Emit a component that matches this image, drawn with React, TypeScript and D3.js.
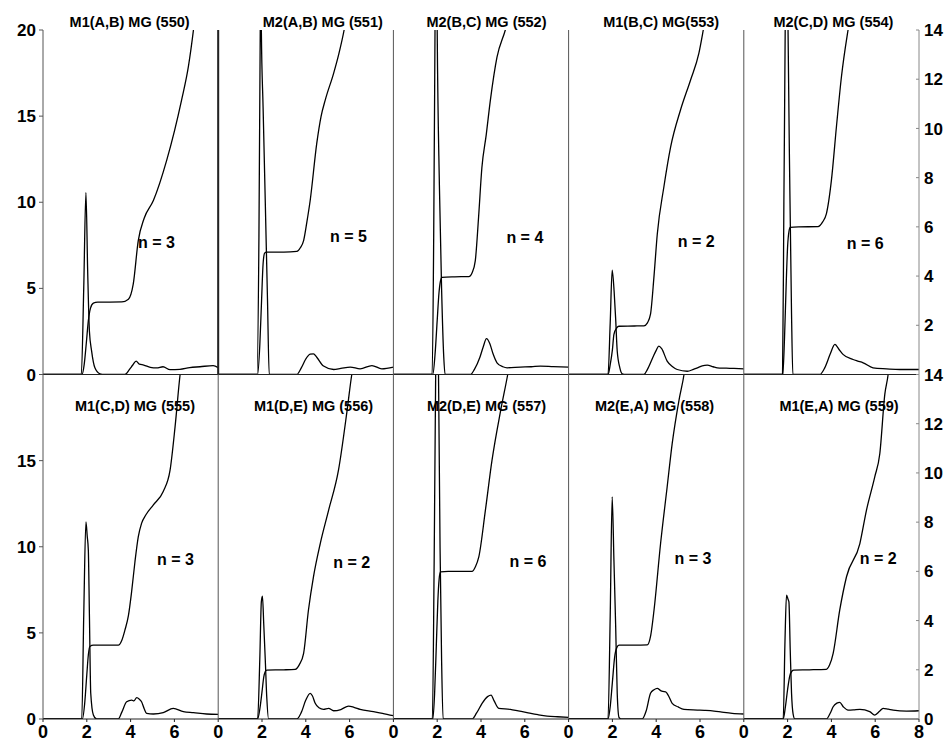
import React from 'react';
import * as d3 from 'd3';

// panel titles, coordination numbers
const titles = [
  'M1(A,B) MG (550)', 'M2(A,B) MG (551)', 'M2(B,C) MG (552)', 'M1(B,C) MG(553)', 'M2(C,D) MG (554)',
  'M1(C,D) MG (555)', 'M1(D,E) MG (556)', 'M2(D,E) MG (557)', 'M2(E,A) MG (558)', 'M1(E,A) MG (559)',
];
const nValues = [3, 5, 4, 2, 6, 3, 2, 6, 3, 2];

// g(r) curves, left axis (0-20)
const gr550 = [[0, 0], [1.75, 0], [1.86, 5], [1.96, 10.57], [2.04, 6], [2.12, 2.5], [2.22, 1.36], [2.37, 0.39], [2.6, 0.04], [2.8, 0], [3.74, 0], [3.95, 0.3], [4.1, 0.55], [4.25, 0.78], [4.4, 0.6], [4.6, 0.55], [4.9, 0.42], [5.19, 0.38], [5.48, 0.45], [5.8, 0.28], [6.25, 0.3], [6.7, 0.4], [7.17, 0.45], [7.77, 0.52], [8, 0.4]];
const gr551 = [[0, 0], [1.77, 0], [1.86, 8], [1.92, 20], [1.945, 26], [1.97, 20], [2.05, 15.5], [2.15, 10], [2.25, 4.4], [2.33, 0], [3.59, 0], [3.8, 0.4], [4.0, 0.9], [4.2, 1.18], [4.35, 1.2], [4.5, 1.0], [4.81, 0.49], [5.27, 0.29], [5.6, 0.35], [6.03, 0.43], [6.48, 0.33], [7.02, 0.52], [7.47, 0.33], [8, 0.43]];
const gr552 = [[0, 0], [1.77, 0], [1.84, 8], [1.9, 20], [1.95, 30], [2.0, 20], [2.1, 11], [2.2, 5], [2.3, 1], [2.36, 0], [3.52, 0], [3.7, 0.3], [3.95, 1.0], [4.1, 1.6], [4.25, 2.08], [4.4, 1.8], [4.55, 1.2], [4.73, 0.68], [5.0, 0.45], [5.19, 0.39], [5.8, 0.43], [6.3, 0.45], [6.71, 0.49], [7.3, 0.46], [8, 0.43]];
const gr553 = [[0, 0], [1.8, 0], [1.9, 3], [1.99, 6.06], [2.08, 4.8], [2.15, 3.2], [2.22, 1.36], [2.34, 0.39], [2.45, 0.04], [2.6, 0], [3.44, 0], [3.6, 0.3], [3.85, 1.0], [4.0, 1.4], [4.12, 1.65], [4.25, 1.5], [4.5, 0.78], [4.75, 0.45], [4.96, 0.29], [5.42, 0.19], [5.7, 0.3], [5.88, 0.39], [6.1, 0.5], [6.33, 0.54], [6.6, 0.45], [6.79, 0.39], [7.2, 0.37], [7.55, 0.35], [8, 0.33]];
const gr554 = [[0, 0], [1.77, 0], [1.83, 10], [1.89, 20], [1.95, 34], [2.02, 20], [2.1, 11], [2.18, 3.5], [2.24, 0], [3.47, 0], [3.7, 0.4], [3.95, 1.2], [4.16, 1.75], [4.35, 1.45], [4.53, 1.17], [4.99, 0.87], [5.2, 0.78], [5.45, 0.68], [5.9, 0.39], [6.52, 0.33], [7.12, 0.29], [8, 0.29]];
const gr555 = [[0, 0], [1.77, 0], [1.86, 6], [1.96, 11.44], [2.02, 10.6], [2.07, 9.8], [2.12, 6], [2.18, 1.49], [2.3, 0.23], [2.45, 0], [3.44, 0], [3.6, 0.4], [3.82, 1.0], [4.05, 1.1], [4.15, 1.05], [4.28, 1.24], [4.4, 1.15], [4.5, 1.0], [4.62, 0.6], [4.73, 0.33], [5.04, 0.29], [5.49, 0.37], [5.95, 0.62], [6.41, 0.43], [6.87, 0.37], [7.47, 0.29], [8, 0.27]];
const gr556 = [[0, 0], [1.8, 0], [1.9, 3.5], [1.97, 6.8], [2.02, 7.13], [2.08, 5.5], [2.15, 3.42], [2.22, 1.2], [2.3, 0], [3.59, 0], [3.8, 0.4], [4.0, 1.1], [4.2, 1.49], [4.3, 1.35], [4.43, 0.91], [4.6, 0.65], [4.81, 0.56], [5.04, 0.62], [5.27, 0.48], [5.6, 0.55], [5.95, 0.75], [6.2, 0.68], [6.48, 0.56], [7.09, 0.43], [7.5, 0.33], [8, 0.19]];
const gr557 = [[0, 0], [1.78, 0], [1.86, 9], [1.93, 20], [1.99, 32], [2.06, 20], [2.13, 10], [2.2, 3.5], [2.27, 0], [3.59, 0], [3.8, 0.35], [4.05, 0.91], [4.3, 1.3], [4.46, 1.39], [4.6, 1.05], [4.81, 0.62], [5.34, 0.56], [5.7, 0.47], [6.1, 0.37], [6.6, 0.25], [7.02, 0.17], [7.5, 0.13], [8, 0.1]];
const gr558 = [[0, 0], [1.8, 0], [1.9, 6], [1.99, 12.9], [2.07, 9.2], [2.15, 5.35], [2.22, 1.49], [2.3, 0.1], [2.4, 0], [3.36, 0], [3.55, 0.5], [3.74, 1.49], [3.9, 1.7], [4.05, 1.78], [4.2, 1.65], [4.3, 1.6], [4.43, 1.58], [4.6, 1.25], [4.73, 0.91], [5.0, 0.7], [5.27, 0.56], [5.88, 0.52], [6.2, 0.5], [6.64, 0.46], [7.0, 0.4], [7.47, 0.33], [8, 0.29]];
const gr559 = [[0, 0], [1.8, 0], [1.88, 4.5], [1.95, 7.19], [2.02, 6.95], [2.06, 6.8], [2.12, 4], [2.18, 1.49], [2.25, 0.3], [2.33, 0], [3.77, 0], [3.95, 0.35], [4.08, 0.71], [4.25, 0.92], [4.38, 0.97], [4.55, 0.7], [4.76, 0.52], [5.0, 0.53], [5.3, 0.56], [5.75, 0.43], [5.98, 0.23], [6.2, 0.45], [6.36, 0.62], [6.6, 0.57], [6.82, 0.52], [7.43, 0.46], [8, 0.48]];

// running coordination number, right axis (0-14)
const cn550 = [[0, 0], [1.78, 0], [1.88, 0.4], [1.98, 1.3], [2.07, 2.18], [2.17, 2.7], [2.3, 2.9], [2.5, 2.94], [3.6, 2.95], [3.9, 3.06], [4.12, 3.67], [4.35, 5.44], [4.62, 6.35], [5.04, 7.07], [5.65, 8.71], [6.33, 11.16], [6.64, 12.52], [6.87, 14.0], [6.95, 14.6]];
const cn551 = [[0, 0], [1.8, 0], [1.9, 1.2], [1.98, 3], [2.05, 4.5], [2.12, 4.93], [2.2, 4.97], [3.0, 4.97], [3.59, 5.0], [3.75, 5.15], [3.9, 5.44], [4.05, 6.2], [4.2, 7.07], [4.5, 9.39], [4.7, 10.5], [4.89, 11.16], [5.27, 12.24], [5.5, 13.0], [5.75, 14.0], [5.85, 14.5]];
const cn552 = [[0, 0], [1.8, 0], [1.9, 0.8], [2.0, 2.2], [2.08, 3.3], [2.15, 3.8], [2.22, 3.95], [2.8, 3.97], [3.44, 3.98], [3.6, 4.15], [3.74, 4.63], [3.89, 6.4], [4.04, 8.4], [4.24, 9.75], [4.43, 11.16], [4.73, 12.9], [5.11, 14.0], [5.2, 14.3]];
const cn553 = [[0, 0], [1.8, 0], [1.9, 0.4], [2.0, 1.0], [2.07, 1.63], [2.2, 1.9], [2.3, 1.96], [3.0, 1.97], [3.44, 1.98], [3.6, 2.1], [3.74, 2.45], [3.9, 4.0], [4.05, 5.71], [4.35, 7.62], [4.66, 9.25], [5.11, 10.75], [5.57, 11.97], [5.95, 13.06], [6.15, 14.0], [6.25, 14.5]];
const cn554 = [[0, 0], [1.78, 0], [1.86, 1.5], [1.94, 3.8], [2.0, 5.2], [2.06, 5.8], [2.12, 5.98], [2.5, 6.0], [3.39, 6.01], [3.6, 6.2], [3.77, 6.53], [4.0, 7.89], [4.23, 10.07], [4.46, 12.11], [4.76, 14.0], [4.85, 14.5]];
const cn555 = [[0, 0], [1.8, 0], [1.9, 0.6], [2.0, 1.8], [2.07, 2.6], [2.14, 2.95], [2.3, 3.0], [3.44, 3.0], [3.6, 3.2], [3.74, 3.61], [3.9, 4.2], [4.05, 5.2], [4.2, 6.4], [4.35, 7.4], [4.5, 7.95], [4.7, 8.3], [5.04, 8.7], [5.49, 9.25], [5.8, 10.1], [6.03, 11.87], [6.26, 14.0], [6.33, 14.5]];
const cn556 = [[0, 0], [1.8, 0], [1.9, 0.4], [2.0, 1.1], [2.08, 1.7], [2.15, 1.93], [2.22, 1.99], [3.0, 2.0], [3.52, 2.02], [3.7, 2.2], [3.9, 2.67], [4.12, 4.42], [4.35, 5.78], [4.66, 7.13], [5.04, 8.48], [5.49, 10.1], [5.88, 12.5], [6.1, 14.0], [6.2, 14.5]];
const cn557 = [[0, 0], [1.8, 0], [1.88, 1.0], [1.96, 3.0], [2.03, 4.8], [2.09, 5.7], [2.15, 5.98], [2.5, 6.0], [3.59, 6.0], [3.75, 6.2], [3.9, 6.59], [4.2, 8.48], [4.5, 10.5], [4.89, 12.5], [5.22, 14.0], [5.3, 14.4]];
const cn558 = [[0, 0], [1.8, 0], [1.9, 0.5], [2.0, 1.5], [2.1, 2.5], [2.2, 2.9], [2.3, 3.0], [3.0, 3.0], [3.59, 3.01], [3.75, 3.4], [3.9, 4.42], [4.2, 7.13], [4.5, 9.43], [4.73, 11.19], [5.04, 12.95], [5.27, 14.0], [5.35, 14.5]];
const cn559 = [[0, 0], [1.8, 0], [1.9, 0.5], [2.0, 1.2], [2.1, 1.75], [2.2, 1.95], [2.28, 1.99], [3.0, 2.0], [3.77, 2.02], [3.92, 2.2], [4.08, 2.67], [4.38, 4.42], [4.69, 5.78], [5.3, 7.13], [5.6, 8.48], [5.98, 9.84], [6.21, 10.78], [6.44, 13.2], [6.59, 14.0], [6.65, 14.5]];

const rdfs = [gr550, gr551, gr552, gr553, gr554, gr555, gr556, gr557, gr558, gr559];
const cns = [cn550, cn551, cn552, cn553, cn554, cn555, cn556, cn557, cn558, cn559];

const xTicks = [0, 2, 4, 6];
const leftTicksTop = [0, 5, 10, 15, 20];
const leftTicksBottom = [0, 5, 10, 15];
const rightTicksTop = [2, 4, 6, 8, 10, 12, 14];
const rightTicksBottom = [0, 2, 4, 6, 8, 10, 12, 14];

// layout tweaks (px / data units) for the annotations
const titleShift = [-1, 17, 5.5, 5, 2, 4.4, 7.7, 5.5, -1.7, 7.6];
const nPos = [[4.34, 7.37], [5.11, 7.72], [5.16, 7.66], [4.98, 7.43], [4.7, 7.26], [5.21, 8.94], [5.25, 8.77], [5.3, 8.83], [4.84, 9.0], [5.3, 9.0]];

const W = 949, H = 742;
const left = 43, right = 919, top = 30, bottom = 719;
const pw = (right - left) / 5;
const rh = (bottom - top) / 2;
const font = "'Liberation Sans', Arial, sans-serif";

const Panel = ({ i }: { i: number }) => {
  const row = Math.floor(i / 5), col = i % 5;
  const x0 = left + col * pw;
  const y0 = top + row * rh;
  const x = d3.scaleLinear().domain([0, 8]).range([x0, x0 + pw]);
  const yL = d3.scaleLinear().domain([0, 20]).range([y0 + rh, y0]);
  const yR = d3.scaleLinear().domain([0, 14]).range([y0 + rh, y0]);
  const lineL = d3.line<number[]>().x(d => x(d[0])).y(d => yL(d[1])).curve(d3.curveMonotoneX);
  const lineR = d3.line<number[]>().x(d => x(d[0])).y(d => yR(d[1])).curve(d3.curveMonotoneX);
  const clipId = `clip-${i}`;
  return (
    <g>
      <clipPath id={clipId}>
        <rect x={x0} y={y0} width={pw} height={rh} />
      </clipPath>
      <g clipPath={`url(#${clipId})`} fill="none" stroke="#000" strokeWidth={1.3}>
        <path d={lineL(rdfs[i]) || ''} />
        <path d={lineR(cns[i]) || ''} />
      </g>
      <text x={x0 + pw / 2 + titleShift[i]} y={row === 0 ? 26.5 : 411} textAnchor="middle"
        fontSize={14.5} fontWeight="bold" fontFamily={font}>{titles[i]}</text>
      <text x={x(nPos[i][0])} y={yL(nPos[i][1])} fontSize={16} fontWeight="bold" fontFamily={font}>
        {`n = ${nValues[i]}`}
      </text>
    </g>
  );
};

export default function App() {
  const yTop = d3.scaleLinear().domain([0, 20]).range([top + rh, top]);
  const yBot = d3.scaleLinear().domain([0, 20]).range([bottom, top + rh]);
  const rTop = d3.scaleLinear().domain([0, 14]).range([top + rh, top]);
  const rBot = d3.scaleLinear().domain([0, 14]).range([bottom, top + rh]);
  const panels = d3.range(10);
  const cols = d3.range(5);
  return (
    <svg width={W} height={H} style={{ position: 'absolute', left: 0, top: 0, background: '#fff' }}>
      <rect width={W} height={H} fill="#fff" />
      {panels.map(i => <Panel key={i} i={i} />)}

      {/* frame */}
      <line x1={left} x2={right} y1={top + rh} y2={top + rh} stroke="#222" />
      <line x1={left} x2={right} y1={bottom} y2={bottom} stroke="#222" />
      {cols.slice(1).map(c => (
        <line key={c} x1={left + c * pw} x2={left + c * pw} y1={top} y2={bottom} stroke="#555" />
      ))}
      <line x1={left + pw} x2={left + pw} y1={top} y2={top + rh} stroke="#222" strokeWidth={2} />

      {/* left axis */}
      <g fontFamily={font} fontWeight="bold" fontSize={17}>
        <line x1={left} x2={left} y1={top} y2={bottom} stroke="#555" />
        {leftTicksTop.map(t => (
          <g key={'lt' + t}>
            <line x1={left - 4} x2={left} y1={yTop(t)} y2={yTop(t)} stroke="#555" />
            <text x={left - 7} y={yTop(t)} dy="0.36em" textAnchor="end">{t}</text>
          </g>
        ))}
        {leftTicksBottom.map(t => (
          <g key={'lb' + t}>
            <line x1={left - 4} x2={left} y1={yBot(t)} y2={yBot(t)} stroke="#555" />
            <text x={left - 7} y={yBot(t)} dy="0.36em" textAnchor="end">{t}</text>
          </g>
        ))}

        {/* right axis */}
        <line x1={right} x2={right} y1={top} y2={bottom} stroke="#888" />
        {rightTicksTop.map(t => (
          <g key={'rt' + t}>
            <line x1={right - 3} x2={right} y1={rTop(t)} y2={rTop(t)} stroke="#888" />
            <text x={right + 5} y={rTop(t)} dy="0.36em">{t}</text>
          </g>
        ))}
        {rightTicksBottom.map(t => (
          <g key={'rb' + t}>
            <line x1={right - 3} x2={right} y1={rBot(t)} y2={rBot(t)} stroke="#888" />
            <text x={right + 5} y={rBot(t)} dy="0.36em">{t}</text>
          </g>
        ))}
      </g>

      {/* bottom axis */}
      <g fontFamily={font} fontWeight="bold" fontSize={18} textAnchor="middle">
        {cols.map(c => {
          const x = d3.scaleLinear().domain([0, 8]).range([left + c * pw, left + (c + 1) * pw]);
          const ticks = c === 4 ? [...xTicks, 8] : xTicks;
          return ticks.map(t => (
            <g key={c + '-' + t}>
              <line x1={x(t)} x2={x(t)} y1={bottom} y2={bottom + 3} stroke="#222" />
              <text x={x(t)} y={738}>{t}</text>
            </g>
          ));
        })}
      </g>
    </svg>
  );
}
